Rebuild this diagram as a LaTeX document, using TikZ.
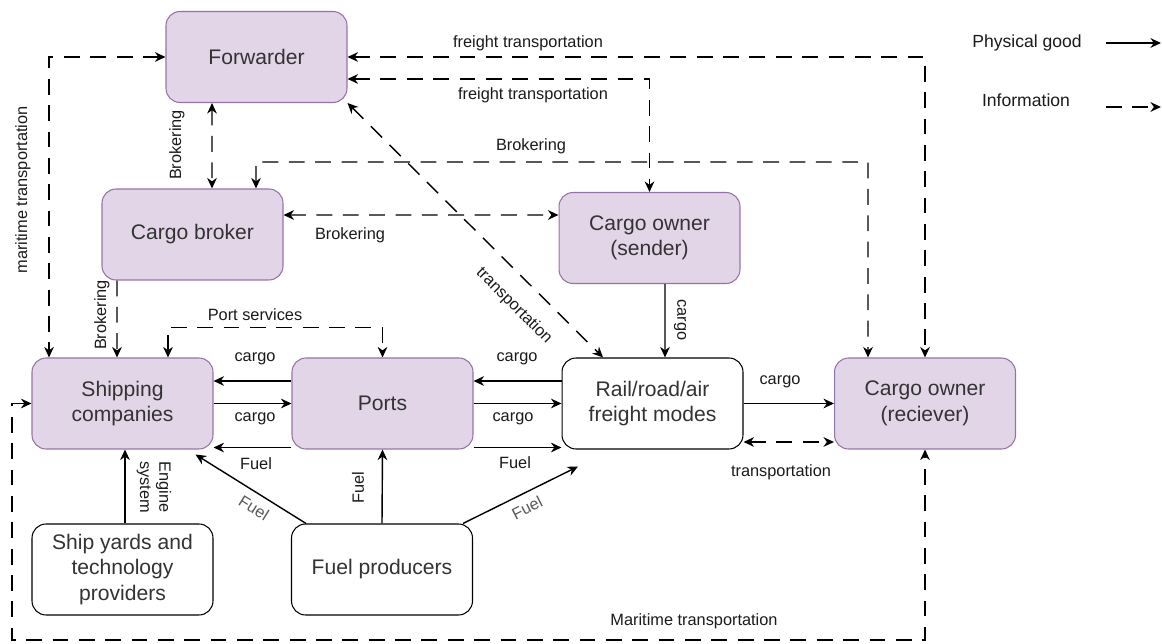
\documentclass[tikz,border=0pt]{standalone}
\usepackage{fontspec}
\setmainfont{Liberation Sans}
\usepackage{xcolor}
\usepackage{tikz}
\usetikzlibrary{arrows.meta}
\definecolor{actfill}{HTML}{E1D5E7}
\definecolor{actline}{HTML}{9673A6}
\definecolor{ink}{HTML}{333333}
\definecolor{lblink}{HTML}{1A1A1A}
\definecolor{soft}{HTML}{5A5A5A}
\tikzset{
  box/.style={rounded corners=0.28cm, minimum width=3.62cm, minimum height=1.82cm, align=center, text=ink, font=\fontsize{12}{14.5}\selectfont, line width=0.6pt},
  actor/.style={box, fill=actfill, draw=actline},
  mode/.style={box, fill=white, draw=black},
  flow/.style={draw=black, line width=0.8pt, >={Stealth[length=6pt,width=5.5pt]}},
  info/.style={flow, dash pattern=on 9pt off 6pt},
  lbl/.style={text=lblink, font=\fontsize{9.3}{11}\selectfont, inner sep=0pt},
  lblg/.style={lbl, text=soft},
  leg/.style={lbl, font=\fontsize{10}{12}\selectfont},
}
\begin{document}
\begin{tikzpicture}[x=0.02cm, y=-0.02cm]
  \useasboundingbox (0,0) rectangle (1162,644);
  \node[actor] (fwd) at (256.5,57) {Forwarder};
  \node[actor] (broker) at (192.5,234.5) {Cargo broker};
  \node[actor] (sender) at (649.5,238) {Cargo owner\\(sender)};
  \node[actor] (ship) at (122.5,403.5) {Shipping\\companies};
  \node[actor] (ports) at (382.5,403.5) {Ports};
  \node[mode] (rail) at (652.5,403.5) {Rail/road/air\\freight modes};
  \node[actor] (recv) at (925,403.5) {Cargo owner\\(reciever)};
  \node[mode] (yards) at (122.5,569.5) {Ship yards and\\technology\\providers};
  \node[mode] (fuel) at (382,569.5) {Fuel producers};
  \coordinate (bk) at (868,162);
  \coordinate (mbend) at (12,640);

  \draw[info,<->] (fwd.west) -| ([xshift=-1.47cm]ship.north);
  \draw[info,<->] (fwd.east) -| (recv.north);
  \draw[info,<->] ([yshift=-0.44cm]fwd.east) -| (sender.north);
  \draw[info,<->] ([xshift=-0.89cm]fwd.south) -- ([xshift=0.39cm]broker.north);
  \draw[info,<->] ([xshift=1.27cm]broker.north) |- (bk) -- ([xshift=-1.14cm]recv.north);
  \draw[info,<->] ([yshift=0.39cm]broker.east) -- ([yshift=0.46cm]sender.west);
  \draw[info,<->] (fwd.south east) -- ([xshift=-0.99cm]rail.north);
  \draw[info,->] ([xshift=-1.51cm]broker.south) -- ([xshift=-0.11cm]ship.north);
  \draw[info,<->] ([xshift=0.91cm]ship.north) -- ++(0,-30) -| (ports.north);
  \draw[info,<->] ([yshift=-0.77cm]rail.east) -- ([yshift=-0.77cm]recv.west);
  \draw[info,<->] (ship.west) -| (mbend) -| (recv.south);

  \draw[flow,->] ([yshift=0.45cm]ports.west) -- ([yshift=0.45cm]ship.east);
  \draw[flow,->] (ship.east) -- (ports.west);
  \draw[flow,->] ([yshift=0.04cm]ports.south west) -- ([yshift=0.04cm]ship.south east);
  \draw[flow,->] ([yshift=0.45cm]rail.west) -- ([yshift=0.45cm]ports.east);
  \draw[flow,->] (ports.east) -- (rail.west);
  \draw[flow,->] ([yshift=0.04cm]ports.south east) -- ([yshift=0.04cm]rail.south west);
  \draw[flow,->] ([xshift=0.31cm]sender.south) -- ([xshift=0.25cm]rail.north);
  \draw[flow,->] (rail.east) -- (recv.west);
  \draw[flow,->] ([xshift=0.05cm]yards.north) -- ([xshift=0.05cm]ship.south);
  \draw[flow,->] ([xshift=-1.52cm]fuel.north) -- ([xshift=-0.36cm,yshift=-0.1cm]ship.south east);
  \draw[flow,->] (fuel.north) -- (ports.south);
  \draw[flow,->] ([xshift=1.62cm]fuel.north) -- ([xshift=-1.49cm,yshift=-0.34cm]rail.south);

  \node[lbl,rotate=90] (lmar) at (23,190) {maritime transportation};
  \node[lbl] (lft1) at (528,43) {freight transportation};
  \node[lbl] (lft2) at (533,95) {freight transportation};
  \node[lbl,rotate=90] (lbk1) at (177,145) {Brokering};
  \node[lbl] (lbk2) at (531,146) {Brokering};
  \node[lbl] (lbk3) at (350,235) {Brokering};
  \node[lbl,rotate=90] (lbk4) at (102,315) {Brokering};
  \node[lbl,rotate=-45] (ltr1) at (514,306) {transportation};
  \node[lbl] (lport) at (255,315) {Port services};
  \node[lbl] (lc1) at (255,359) {cargo};
  \node[lbl] (lc2) at (255,419) {cargo};
  \node[lbl] (lf1) at (256,464) {Fuel};
  \node[lbl] (lc3) at (517,359) {cargo};
  \node[lbl] (lc4) at (513,419) {cargo};
  \node[lbl] (lf2) at (515,463) {Fuel};
  \node[lbl,rotate=-90] (lc5) at (680,320) {cargo};
  \node[lbl] (lc6) at (780,382) {cargo};
  \node[lbl] (ltr2) at (781,472) {transportation};
  \node[lbl,rotate=-90,align=center] (leng) at (154,487) {Engine\\system};
  \node[lblg,rotate=-32] (lf3) at (254,508) {Fuel};
  \node[lbl,rotate=90] (lf4) at (358,488) {Fuel};
  \node[lblg,rotate=27] (lf5) at (527,508) {Fuel};
  \node[lbl] (lmt) at (694,621) {Maritime transportation};

  \node[leg] (lgphys) at (1027,43) {Physical good};
  \node[leg] (lginfo) at (1026,100) {Information};
  \coordinate (lgp1) at (1106,43);
  \coordinate (lgp2) at (1161,43);
  \coordinate (lgi1) at (1106,107);
  \coordinate (lgi2) at (1161,107);
  \draw[flow,->] (lgp1) -- (lgp2);
  \draw[info,->] (lgi1) -- (lgi2);
\end{tikzpicture}
\end{document}
